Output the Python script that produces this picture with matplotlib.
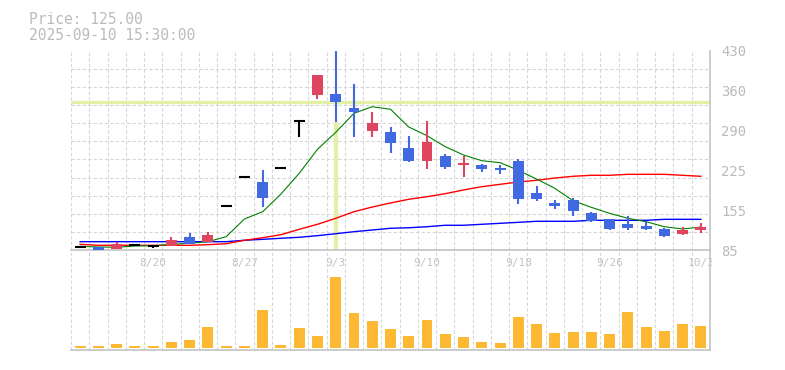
import numpy as np
import matplotlib
matplotlib.use("Agg")
import matplotlib.pyplot as plt
from matplotlib.transforms import Bbox, TransformedBbox, IdentityTransform

# trading days, 2025-08-14 .. 2025-10-03
DATES = ["8/14", "8/15", "8/18", "8/19", "8/20", "8/21", "8/22", "8/25", "8/26", "8/27",
         "8/28", "8/29", "9/1", "9/2", "9/3", "9/4", "9/5", "9/8", "9/9", "9/10",
         "9/11", "9/12", "9/16", "9/17", "9/18", "9/19", "9/22", "9/24", "9/25", "9/26",
         "9/29", "9/30", "10/1", "10/2", "10/3"]

OPEN = [90.2, 89.7, 86.7, 93.1, 91.4, 92.4, 107.5, 99.4, 160.6, 210.8,
        202.7, 226.4, 307.8, 353.8, 355.0, 331.3, 291.5, 289.3, 261.6, 239.6,
        247.7, 233.5, 232.1, 226.9, 239.1, 183.7, 166.4, 171.6, 149.0, 138.7,
        130.0, 126.5, 121.4, 113.2, 119.6]
HIGH = [90.2, 90.2, 99.4, 95.4, 91.4, 107.5, 114.9, 116.2, 160.6, 210.8,
        223.5, 226.4, 307.8, 387.9, 445.0, 372.3, 323.4, 297.4, 282.3, 308.3,
        251.2, 247.7, 233.9, 231.6, 242.0, 195.8, 171.6, 174.5, 151.3, 139.5,
        143.9, 135.7, 123.6, 124.8, 131.7]
LOW = [90.2, 84.0, 86.7, 91.9, 89.0, 92.4, 94.9, 99.4, 160.6, 210.8,
       159.4, 226.4, 280.6, 345.8, 307.1, 281.1, 281.1, 253.4, 237.8, 225.7,
       225.7, 211.9, 220.5, 216.6, 165.1, 170.3, 156.5, 144.4, 134.0, 120.1,
       120.1, 119.6, 107.5, 111.5, 115.0]
CLOSE = [90.2, 85.5, 95.4, 93.1, 91.4, 102.3, 94.9, 111.0, 160.6, 210.8,
         175.5, 226.4, 307.8, 387.9, 341.7, 324.4, 304.8, 270.7, 239.6, 272.0,
         229.2, 234.2, 225.7, 223.5, 173.8, 173.8, 161.7, 153.0, 135.7, 121.9,
         123.6, 121.4, 109.2, 119.1, 125.0]
VOLUME = [20, 20, 40, 20, 20, 60, 80, 210, 20, 20,
          380, 30, 200, 120, 713, 350, 270, 190, 120, 280,
          140, 110, 60, 50, 310, 240, 150, 160, 160, 140,
          360, 210, 170, 240, 220]

MA_SHORT = [91.4, 90.2, 89.7, 91.9, 92.4, 94.9, 96.6, 99.4, 108.0, 138.7,
            151.3, 181.9, 217.7, 259.3, 288.7, 321.6, 333.1, 328.6, 297.9, 282.9,
            263.8, 249.5, 239.6, 236.2, 223.0, 207.9, 191.8, 170.3, 158.9, 148.5,
            139.9, 134.0, 125.3, 121.4, 124.8]
MA_MID = [94.9, 93.1, 93.1, 93.1, 93.1, 93.1, 93.1, 94.2, 95.9, 101.8,
          106.3, 111.5, 120.8, 129.5, 139.9, 151.3, 159.4, 166.4, 172.8, 177.3,
          182.5, 188.9, 194.6, 198.7, 202.7, 205.7, 209.6, 212.6, 214.3, 214.3,
          216.0, 216.0, 216.0, 214.3, 212.6]
MA_LONG = [99.4, 99.4, 99.4, 99.4, 99.4, 99.4, 99.4, 99.4, 99.4, 101.8,
           103.5, 105.3, 107.0, 109.8, 113.2, 116.7, 119.6, 122.6, 123.5, 125.3,
           127.8, 127.8, 129.5, 131.2, 132.9, 134.7, 134.7, 134.7, 136.4, 136.4,
           136.4, 136.4, 138.1, 138.1, 138.1]

PRICE_MIN, PRICE_MAX = 85, 430
YTICK_LABELS = ["85", "155", "225", "290", "360", "430"]
CROSS_IDX = 14
TITLE_LINES = ["Price: 125.00", "2025-09-10 15:30:00"]

UP = "#e0455f"
DOWN = "#4169e1"
GRID = "#d6d6d6"
TEXT = "#bbbbbb"
MONO = "DejaVu Sans Mono"

W, H = 785, 370
fig = plt.figure(figsize=(W / 100, H / 100), dpi=100)
ax = fig.add_axes([71 / W, 1 - 250 / H, 639 / W, 199.3 / H])
vax = fig.add_axes([71 / W, 1 - 350 / H, 639 / W, 100 / H], zorder=-1)

n = len(CLOSE)
x = np.arange(n)

for a in (ax, vax):
    a.set_xlim(-0.5, n - 0.5)
    a.set_xticks(np.arange(-0.5, n, 1), minor=True)
    a.grid(which="minor", axis="x", color=GRID, linestyle=(0, (3, 2)), linewidth=0.8)
    a.set_axisbelow(True)
    for s in ("top", "left"):
        a.spines[s].set_visible(False)
    for s in ("bottom", "right"):
        a.spines[s].set_color("#c4c4c4")
        a.spines[s].set_linewidth(1.2)
    a.tick_params(which="both", length=0)

# price panel
ax.set_ylim(PRICE_MIN, PRICE_MAX)
ax.set_yticks(np.linspace(PRICE_MIN, PRICE_MAX, 12), minor=True)
ax.grid(which="minor", axis="y", color=GRID, linestyle=(0, (3, 2)), linewidth=0.8)
ax.yaxis.tick_right()
ax.set_yticks(np.linspace(PRICE_MIN, PRICE_MAX, len(YTICK_LABELS)))
ax.set_yticklabels(YTICK_LABELS, fontsize=10, family=MONO, color=TEXT)
ax.tick_params(axis="y", pad=8)
ax.set_xticks(x[4::5])
ax.set_xticklabels([DATES[i] for i in x[4::5]], fontsize=8, family=MONO, color="#c4c4c4")
ax.tick_params(axis="x", pad=6)
ax.patch.set_alpha(0)

# the last date label is cut at the right border in the original
clip = TransformedBbox(Bbox.from_extents(0, 0, 712, H), IdentityTransform())
for lbl in ax.get_xticklabels():
    lbl.set_clip_box(clip)
    lbl.set_clip_on(True)

# crosshair
ax.axhline(CLOSE[CROSS_IDX], color="#e2f1a6", linewidth=2.4, zorder=1.5)
ax.vlines(CROSS_IDX, PRICE_MIN, LOW[CROSS_IDX], color="#e2f1a6", linewidth=3, zorder=1.5)

# moving averages
ax.plot(x, MA_LONG, color="#0000ff", linewidth=1.0, zorder=2)
ax.plot(x, MA_MID, color="#ff0000", linewidth=1.0, zorder=2)
ax.plot(x, MA_SHORT, color="#008000", linewidth=0.8, zorder=2)

# candles
for i in range(n):
    o, h, l, c = OPEN[i], HIGH[i], LOW[i], CLOSE[i]
    if c > o:
        col = UP
    elif c < o:
        col = DOWN
    else:
        col = "black"
    ax.vlines(i, l, h, color=col, linewidth=1.5, zorder=3)
    if abs(c - o) < 1:
        ax.hlines((o + c) / 2, i - 0.3, i + 0.3, color=col, linewidth=1.5, zorder=3)
    else:
        ax.bar(i, c - o, bottom=o, width=0.6, color=col, zorder=3)

# volume panel
vax.bar(x, VOLUME, width=0.6, color="#fdb933", zorder=3)
vax.set_ylim(-20, 980)
vax.set_yticks([])
vax.set_xticks([])
vax.patch.set_alpha(0)

fig.text(29 / W, 1 - 12.5 / H, TITLE_LINES[0], fontsize=10.5, family=MONO, color=TEXT, va="top")
fig.text(29 / W, 1 - 28.5 / H, TITLE_LINES[1], fontsize=10.5, family=MONO, color=TEXT, va="top")

fig.savefig("out.png", dpi=100, facecolor="white")
